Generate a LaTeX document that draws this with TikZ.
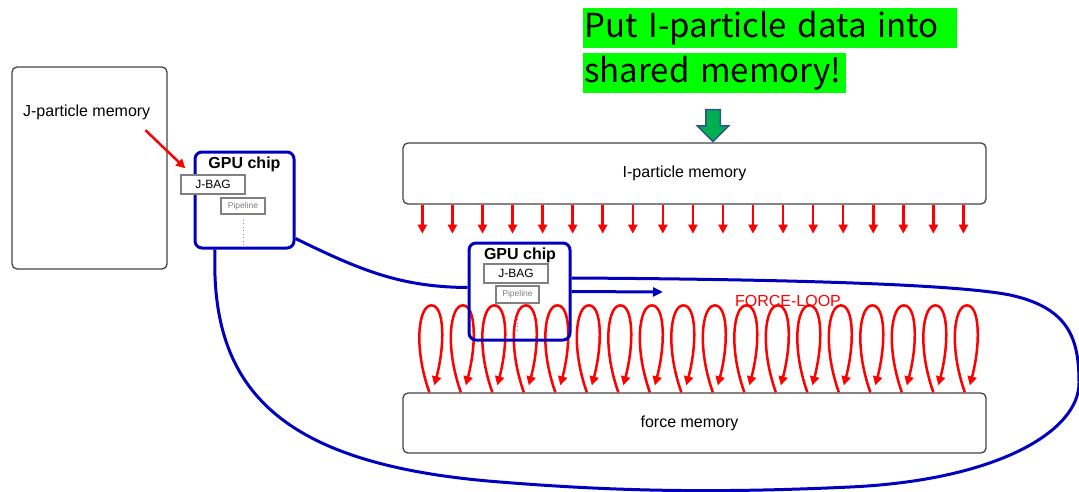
\documentclass[tikz,border=0pt]{standalone}
\usepackage{fontspec}
\setmainfont{Liberation Sans}
\newfontfamily\notefont{Noto Sans CJK SC}
\usetikzlibrary{arrows.meta,shapes.arrows}

\definecolor{chipblue}{RGB}{0,0,190}
\definecolor{loopred}{RGB}{255,0,0}
\definecolor{notegreen}{RGB}{0,255,0}
\definecolor{pushgreen}{RGB}{0,176,80}
\definecolor{pushedge}{RGB}{47,82,143}
\definecolor{boxgray}{RGB}{68,68,68}
\definecolor{dotviolet}{RGB}{150,130,230}

\begin{document}
\begin{tikzpicture}[x=1pt,y=-1pt]
  \tikzstyle{mem} = [draw=boxgray, line width=1.3pt, rounded corners=5pt, inner sep=0pt, font=\fontsize{16}{19}\selectfont]
  \tikzstyle{chip} = [draw=chipblue, line width=3pt, rounded corners=7pt, inner sep=0pt]
  \tikzstyle{title} = [inner sep=0pt, anchor=base, font=\bfseries\fontsize{16}{19}\selectfont]
  \tikzstyle{bag} = [draw=gray, line width=1.5pt, fill=white, inner sep=0pt, font=\fontsize{12}{14}\selectfont]
  \tikzstyle{pipe} = [draw=gray, line width=1.2pt, fill=white, inner sep=0pt, text=gray, font=\fontsize{8.5}{10}\selectfont]
  \tikzstyle{pipedots} = [draw=dotviolet, line width=1pt, dash pattern=on 1pt off 2.5pt]
  \tikzstyle{wire} = [draw=chipblue, line width=3pt]
  \tikzstyle{redarrow} = [draw=loopred, line width=2.5pt, -{Triangle[length=9pt,width=9pt]}]
  \tikzstyle{note} = [fill=notegreen, inner xsep=1pt, inner ysep=0pt, minimum height=40pt, align=left, anchor=north west, font=\notefont\fontsize{33}{38}\selectfont]
  \useasboundingbox (0,0) rectangle (1079,491);

  % J-Seite
  \node[mem, minimum width=155pt, minimum height=202pt] (jmem) at (89.5,168) {};
  \node[inner sep=0pt, anchor=base, font=\fontsize{16}{19}\selectfont] (jlabel) at (86.7,116.7) {J-particle memory};
  \node[chip, minimum width=99pt, minimum height=96pt] (gpu1) at (244.5,200) {};
  \node[title] (gpu1-title) at (244.5,168) {GPU chip};
  \node[bag, minimum width=64pt, minimum height=19pt] (jbag1) at (213,184.5) {J-BAG};
  \node[pipe, minimum width=44pt, minimum height=16pt] (pipe1) at (243,206) {Pipeline};
  \draw[pipedots] ([yshift=-5pt]pipe1.south) -- ++(0,25);

  % I-Speicher
  \node[mem, minimum width=583pt, minimum height=61pt] (imem) at (694.5,173.5) {\hspace*{-20pt}I-particle memory};
  \foreach \i in {0,...,18}
    \draw[redarrow] ([xshift=20pt+30.06pt*\i]imem.south west) -- ++(0,29);

  % Hinweis
  \node[note, text width=372pt] (note1) at (583,8) {Put I-particle data into};
  \node[note, text width=261pt] (note2) at (583,53) {shared memory!};
  \node[single arrow, shape border rotate=270, fill=pushgreen, draw=pushedge, line width=1.5pt,
        minimum height=32pt, single arrow head extend=8.5pt,
        single arrow head indent=0pt, inner sep=6.5pt] (push) at (713,122) {};

  % Kraft-Speicher und Schleifen
  \node[mem, minimum width=583pt, minimum height=60pt] (fmem) at (694.5,423) {\hspace*{-10pt}force memory};
  \node[pipe, minimum width=43pt, minimum height=17pt] (pipe2) at (517.5,294.5) {Pipeline};
  \draw[pipedots] ([yshift=-5pt]pipe2.south) -- ++(0,22);
  \foreach \i in {0,...,17}
    \draw[redarrow] ([xshift=27pt+31.5pt*\i]fmem.north west)
      .. controls +(-16,-45) and +(-13,0) .. ++(2,-87)
      .. controls +(13,0) and +(11,-42) .. ++(3,80);
  \node[inner sep=0pt, anchor=base, text=loopred, font=\fontsize{16}{19}\selectfont] (loop-label) at (788,306) {FORCE-LOOP};

  % zweiter Chip
  \node[chip, minimum width=101pt, minimum height=97pt] (gpu2) at (519.5,291.5) {};
  \node[title] (gpu2-title) at (520,259) {GPU chip};
  \node[bag, minimum width=64pt, minimum height=19pt] (jbag2) at (516,273.5) {J-BAG};

  % Verbindungen
  \coordinate (loop-end) at (663,292);
  \draw[redarrow] ([xshift=-5pt,yshift=-10pt]jlabel.south east) -- ([xshift=5pt,yshift=6pt]jbag1.north west);
  \draw[wire] ([yshift=11pt]gpu1.south east) .. controls (360,270) and (400,287) .. ([yshift=4pt]gpu2.west);
  \draw[wire, -{Triangle[length=10pt,width=9pt]}] (gpu2.east) -- (loop-end);
  \draw[wire] ([yshift=13.5pt]gpu2.east) .. controls (750,279) and (950,283) .. (1010,295)
    .. controls (1070,308) and (1079,340) .. (1079,383)
    .. controls (1079,430) and (1000,480) .. (850,487)
    .. controls (700,494) and (600,490) .. (500,482)
    .. controls (280,465) and (210,390) .. ([xshift=-29.5pt]gpu1.south);
\end{tikzpicture}
\end{document}
